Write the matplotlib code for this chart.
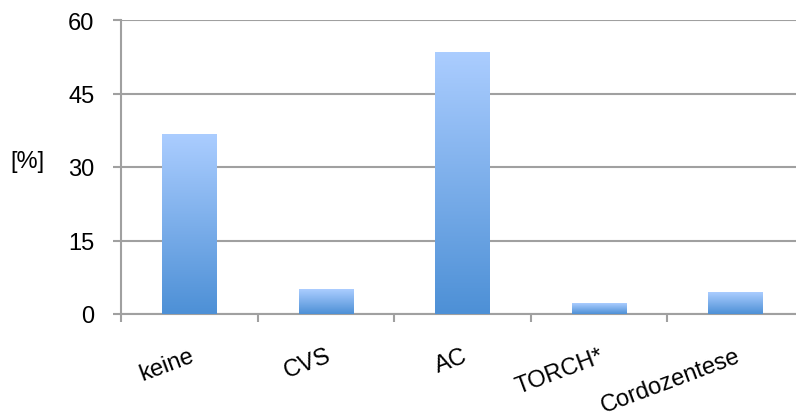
import numpy as np
import matplotlib.pyplot as plt
from matplotlib.colors import LinearSegmentedColormap

# Anteil der Untersuchungen in Prozent
kategorien = ["keine", "CVS", "AC", "TORCH*", "Cordozentese"]
werte = [36.7, 5.1, 53.3, 2.2, 4.3]
y_ticks = [0, 15, 30, 45, 60]

plt.rcParams['font.family'] = ['Liberation Sans', 'DejaVu Sans']
grau = "#a0a0a0"

fig = plt.figure(figsize=(7.96, 4.14), dpi=100)
ax = fig.add_axes([121/796, 99/414, 683/796, 294/414])

# Farbverlauf hell oben, dunkel unten
verlauf = LinearSegmentedColormap.from_list("blau", ["#4d90d6", "#abcdff"])
grad = np.linspace(0, 1, 256).reshape(-1, 1)
breite = 0.4
for i, w in enumerate(werte):
    ax.imshow(grad, cmap=verlauf, origin="lower", aspect="auto",
              extent=[i + 0.5 - breite/2, i + 0.5 + breite/2, 0, w], zorder=3)

ax.set_xlim(0, len(kategorien))
ax.set_ylim(0, 60)

ax.set_yticks(y_ticks)
ax.set_yticklabels([str(t) for t in y_ticks], fontsize=17)
ax.yaxis.grid(True, color=grau, linewidth=1.5)
ax.set_axisbelow(True)

# Striche an den Kategoriegrenzen, Beschriftung in der Mitte
ax.set_xticks(range(len(kategorien) + 1))
ax.set_xticklabels([])
ax.set_xticks([i + 0.5 for i in range(len(kategorien))], minor=True)
ax.set_xticklabels(kategorien, minor=True, fontsize=17, rotation=20.5,
                   ha="right", rotation_mode="anchor")
ax.tick_params(axis="x", which="minor", length=0, pad=22)
ax.tick_params(axis="x", which="major", length=6, width=1.5, color=grau)
ax.tick_params(axis="y", length=6, width=1.5, color=grau, pad=13)

for s in ["top", "right"]:
    ax.spines[s].set_visible(False)
for s in ["left", "bottom"]:
    ax.spines[s].set_color(grau)
    ax.spines[s].set_linewidth(1.5)

fig.text(10/796, 1 - 162/414, "[%]", fontsize=17, va="center", ha="left")

fig.savefig("out.png", dpi=100)
